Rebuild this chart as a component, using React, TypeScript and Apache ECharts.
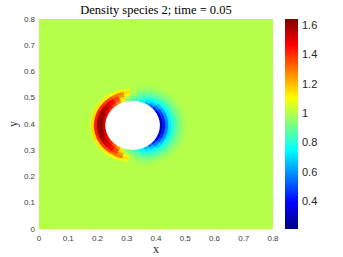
import React, { useEffect, useRef } from "react";
import * as echarts from "echarts";

// ---- data ----
const TITLE = "Density species 2; time = 0.05";
const X_TICKS = [0, 0.1, 0.2, 0.3, 0.4, 0.5, 0.6, 0.7, 0.8];
const Y_TICKS = [0, 0.1, 0.2, 0.3, 0.4, 0.5, 0.6, 0.7, 0.8];
const COLORBAR_TICKS = [0.4, 0.6, 0.8, 1.0, 1.2, 1.4, 1.6];
const DENSITY_MIN = 0.21;
const DENSITY_MAX = 1.64;
const FREESTREAM_DENSITY = 1.0;
const OBSTACLE_CENTER = [0.32, 0.395];
const OBSTACLE_RADIUS = 0.093;

// polar sampling around the obstacle: angle (deg, from +x, counter-clockwise) x ring
const ANGLES_DEG = [0, 10, 20, 30, 40, 50, 60, 70, 80, 90, 100, 110, 120, 130, 140, 150, 160, 170,
  180, 190, 200, 210, 220, 230, 240, 250, 260, 270, 280, 290, 300, 310, 320, 330, 340, 350];
const RING_INNER_RADII = [0.093, 0.103, 0.113, 0.123, 0.133, 0.143, 0.153, 0.163, 0.173];
const RING_WIDTH = 0.01;
const ANGLE_STEP = 10;

const DENSITY_BY_ANGLE = [
  [0.30, 0.42, 0.57, 0.72, 0.80, 0.86, 0.91, 0.95, 0.98], // 0
  [0.30, 0.43, 0.58, 0.72, 0.80, 0.86, 0.91, 0.95, 0.98], // 10
  [0.33, 0.45, 0.60, 0.73, 0.81, 0.87, 0.92, 0.95, 0.98], // 20
  [0.38, 0.50, 0.63, 0.75, 0.82, 0.88, 0.93, 0.96, 0.99], // 30
  [0.45, 0.57, 0.68, 0.78, 0.84, 0.90, 0.94, 0.97, 0.99], // 40
  [0.55, 0.65, 0.74, 0.81, 0.87, 0.92, 0.96, 0.98, 1.00], // 50
  [0.65, 0.72, 0.79, 0.85, 0.90, 0.94, 0.97, 0.99, 1.00], // 60
  [0.74, 0.79, 0.84, 0.89, 0.93, 0.96, 0.98, 1.00, 1.00], // 70
  [0.82, 0.86, 0.90, 0.93, 0.96, 0.98, 1.00, 1.00, 1.00], // 80
  [0.87, 0.92, 0.97, 1.00, 1.00, 1.00, 1.00, 1.00, 1.00], // 90
  [0.92, 0.98, 1.08, 1.15, 1.06, 1.00, 1.00, 1.00, 1.00], // 100
  [1.05, 1.15, 1.25, 1.28, 1.12, 1.00, 1.00, 1.00, 1.00], // 110
  [1.25, 1.35, 1.38, 1.30, 1.10, 1.00, 1.00, 1.00, 1.00], // 120
  [1.35, 1.45, 1.47, 1.35, 1.12, 1.01, 1.00, 1.00, 1.00], // 130
  [1.42, 1.52, 1.52, 1.38, 1.13, 1.01, 1.00, 1.00, 1.00], // 140
  [1.46, 1.57, 1.56, 1.40, 1.14, 1.02, 1.00, 1.00, 1.00], // 150
  [1.50, 1.60, 1.59, 1.42, 1.15, 1.02, 1.00, 1.00, 1.00], // 160
  [1.52, 1.62, 1.61, 1.43, 1.15, 1.02, 1.00, 1.00, 1.00], // 170
  [1.52, 1.63, 1.61, 1.43, 1.15, 1.02, 1.00, 1.00, 1.00], // 180
  [1.52, 1.62, 1.61, 1.43, 1.15, 1.02, 1.00, 1.00, 1.00], // 190
  [1.50, 1.60, 1.59, 1.42, 1.15, 1.02, 1.00, 1.00, 1.00], // 200
  [1.46, 1.57, 1.56, 1.40, 1.14, 1.02, 1.00, 1.00, 1.00], // 210
  [1.42, 1.52, 1.52, 1.38, 1.13, 1.01, 1.00, 1.00, 1.00], // 220
  [1.35, 1.45, 1.47, 1.35, 1.12, 1.01, 1.00, 1.00, 1.00], // 230
  [1.25, 1.35, 1.38, 1.30, 1.10, 1.00, 1.00, 1.00, 1.00], // 240
  [1.05, 1.15, 1.25, 1.28, 1.12, 1.00, 1.00, 1.00, 1.00], // 250
  [0.92, 0.98, 1.08, 1.15, 1.06, 1.00, 1.00, 1.00, 1.00], // 260
  [0.87, 0.92, 0.97, 1.00, 1.00, 1.00, 1.00, 1.00, 1.00], // 270
  [0.82, 0.86, 0.90, 0.93, 0.96, 0.98, 1.00, 1.00, 1.00], // 280
  [0.74, 0.79, 0.84, 0.89, 0.93, 0.96, 0.98, 1.00, 1.00], // 290
  [0.65, 0.72, 0.79, 0.85, 0.90, 0.94, 0.97, 0.99, 1.00], // 300
  [0.55, 0.65, 0.74, 0.81, 0.87, 0.92, 0.96, 0.98, 1.00], // 310
  [0.45, 0.57, 0.68, 0.78, 0.84, 0.90, 0.94, 0.97, 0.99], // 320
  [0.38, 0.50, 0.63, 0.75, 0.82, 0.88, 0.93, 0.96, 0.99], // 330
  [0.33, 0.45, 0.60, 0.73, 0.81, 0.87, 0.92, 0.95, 0.98], // 340
  [0.30, 0.43, 0.58, 0.72, 0.80, 0.86, 0.91, 0.95, 0.98], // 350
];

// jet colour map, evenly spaced stops
const JET = ["#00007f", "#0000ff", "#007fff", "#00ffff", "#7fff7f", "#ffff00", "#ff7f00", "#ff0000", "#7f0000"];

const TICK_COLOR = "#404040";
const SANS = "'Liberation Sans', Arial, sans-serif";
const SERIF = "'Liberation Serif', 'Times New Roman', serif";

function buildOption() {
  const polarData: number[][] = [];
  ANGLES_DEG.forEach((a, i) => {
    RING_INNER_RADII.forEach((r, j) => {
      polarData.push([a, r, DENSITY_BY_ANGLE[i][j]]);
    });
  });
  const [cx, cy] = OBSTACLE_CENTER;

  return {
    animation: false,
    backgroundColor: "#ffffff",
    title: {
      text: TITLE,
      left: 156,
      top: 3,
      padding: 0,
      textAlign: "center",
      textStyle: { fontFamily: SERIF, fontSize: 12.5, fontWeight: "normal", color: "#000" },
    },
    grid: [
      { left: 39, top: 19, width: 234, height: 210, containLabel: false, outerBoundsMode: "none" },
      { left: 285, top: 19, width: 13, height: 210, containLabel: false, outerBoundsMode: "none" },
    ],
    visualMap: {
      type: "continuous",
      show: false,
      min: DENSITY_MIN,
      max: DENSITY_MAX,
      dimension: 2,
      seriesIndex: [0, 1],
      inRange: { color: JET },
    },
    xAxis: [
      {
        gridIndex: 0,
        type: "value",
        min: X_TICKS[0],
        max: X_TICKS[X_TICKS.length - 1],
        interval: 0.1,
        name: "x",
        nameLocation: "middle",
        nameGap: 14,
        nameMoveOverlap: false,
        nameTextStyle: { fontFamily: SERIF, fontSize: 12, color: "#262626" },
        axisLine: { show: false },
        axisTick: { show: false },
        splitLine: { show: false },
        axisLabel: { fontSize: 8, color: TICK_COLOR, margin: 5, fontFamily: SANS },
      },
      { gridIndex: 1, type: "value", min: 0, max: 1, show: false },
    ],
    yAxis: [
      {
        gridIndex: 0,
        type: "value",
        min: Y_TICKS[0],
        max: Y_TICKS[Y_TICKS.length - 1],
        interval: 0.1,
        name: "y",
        nameLocation: "middle",
        nameGap: 20,
        nameMoveOverlap: false,
        nameTextStyle: { fontFamily: SERIF, fontSize: 12, color: "#262626" },
        axisLine: { show: false },
        axisTick: { show: false },
        splitLine: { show: false },
        axisLabel: { fontSize: 8, color: TICK_COLOR, margin: 4, fontFamily: SANS },
      },
      {
        gridIndex: 1,
        type: "value",
        position: "right",
        min: DENSITY_MIN,
        max: DENSITY_MAX,
        axisLine: { show: false },
        axisTick: { show: false },
        splitLine: { show: false },
        axisLabel: {
          customValues: COLORBAR_TICKS,
          formatter: (v: number) => String(Number(v.toFixed(1))),
          fontSize: 11,
          margin: 4,
          color: "#262626",
          fontFamily: SANS,
        },
      },
    ],
    series: [
      {
        name: "freestream",
        type: "custom",
        xAxisIndex: 0,
        yAxisIndex: 0,
        data: [[X_TICKS[0], Y_TICKS[0], FREESTREAM_DENSITY, X_TICKS[X_TICKS.length - 1], Y_TICKS[Y_TICKS.length - 1]]],
        renderItem: (_p: any, api: any) => {
          const p0 = api.coord([api.value(0), api.value(1)]);
          const p1 = api.coord([api.value(3), api.value(4)]);
          return {
            type: "rect",
            shape: { x: p0[0], y: p1[1], width: p1[0] - p0[0], height: p0[1] - p1[1] },
            style: { fill: api.visual("color") },
          };
        },
      },
      {
        name: "density",
        type: "custom",
        xAxisIndex: 0,
        yAxisIndex: 0,
        data: polarData,
        renderItem: (_p: any, api: any) => {
          const th = api.value(0);
          const r0 = api.value(1);
          const r1 = r0 + RING_WIDTH;
          const half = ANGLE_STEP / 2 + 0.5;
          const n = 5;
          const pts: number[][] = [];
          for (let k = 0; k <= n; k++) {
            const a = ((th - half + (2 * half * k) / n) * Math.PI) / 180;
            pts.push(api.coord([cx + r0 * Math.cos(a), cy + r0 * Math.sin(a)]));
          }
          for (let k = n; k >= 0; k--) {
            const a = ((th - half + (2 * half * k) / n) * Math.PI) / 180;
            pts.push(api.coord([cx + r1 * Math.cos(a), cy + r1 * Math.sin(a)]));
          }
          const c = api.visual("color");
          return {
            type: "polygon",
            shape: { points: pts },
            style: { fill: c, stroke: c, lineWidth: 0.6 },
          };
        },
      },
      {
        name: "obstacle",
        type: "custom",
        xAxisIndex: 0,
        yAxisIndex: 0,
        data: [[cx, cy, OBSTACLE_RADIUS]],
        renderItem: (_p: any, api: any) => {
          const ox = api.value(0);
          const oy = api.value(1);
          const r = api.value(2);
          const pts: number[][] = [];
          for (let k = 0; k < 90; k++) {
            const a = (k / 90) * Math.PI * 2;
            pts.push(api.coord([ox + r * Math.cos(a), oy + r * Math.sin(a)]));
          }
          return { type: "polygon", shape: { points: pts }, style: { fill: "#ffffff" } };
        },
      },
      {
        name: "colorbar",
        type: "custom",
        xAxisIndex: 1,
        yAxisIndex: 1,
        data: [[0, DENSITY_MIN, 1, DENSITY_MAX]],
        renderItem: (_p: any, api: any) => {
          const p0 = api.coord([api.value(0), api.value(1)]);
          const p1 = api.coord([api.value(2), api.value(3)]);
          return {
            type: "rect",
            shape: { x: p0[0], y: p1[1], width: p1[0] - p0[0], height: p0[1] - p1[1] },
            style: {
              fill: new echarts.graphic.LinearGradient(
                0, 1, 0, 0,
                JET.map((color, i) => ({ offset: i / (JET.length - 1), color }))
              ),
            },
          };
        },
      },
    ],
  };
}

export default function App() {
  const ref = useRef<HTMLDivElement>(null);
  useEffect(() => {
    if (!ref.current) return;
    const chart = echarts.init(ref.current, null, { renderer: "svg" });
    chart.setOption(buildOption() as any);
    return () => chart.dispose();
  }, []);
  return (
    <div
      ref={ref}
      style={{ position: "fixed", left: 0, top: 0, width: 343, height: 257 }}
    />
  );
}
